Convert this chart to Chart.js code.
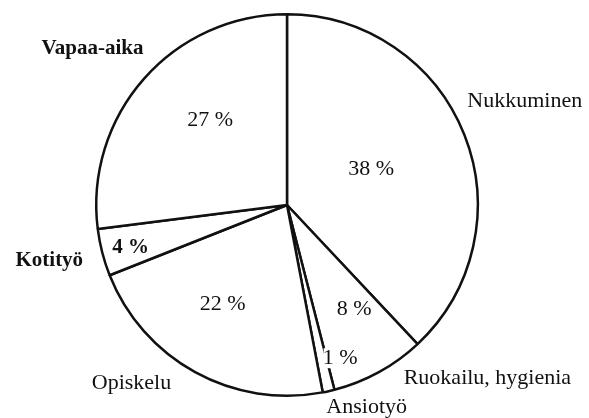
<!DOCTYPE html>
<html>
<head>
<meta charset="utf-8">
<script src="https://cdn.jsdelivr.net/npm/chart.js@4.4.0/dist/chart.umd.min.js"></script>
<style>
  html, body { margin: 0; padding: 0; background: #fff; }
  #wrap { width: 589px; height: 418px; }
</style>
</head>
<body>
<div id="wrap"><canvas id="pieChart" width="589" height="418"></canvas></div>
<script>
    const categories = ['Nukkuminen', 'Ruokailu, hygienia', 'Ansiotyö', 'Opiskelu', 'Kotityö', 'Vapaa-aika'];
    const shares = [38, 8, 1, 22, 4, 27];
    const shareLabels = ['38 %', '8 %', '1 %', '22 %', '4 %', '27 %'];

    // label placement: [angle shift from slice middle (deg), distance as fraction of radius]
    const innerPlace = [[-1.6, 0.48], [-4, 0.65], [-6.5, 0.85], [4.1, 0.62], [-0.9, 0.85], [6.4, 0.60]];
    const outerPlace = [[-2, 1.36], [-20.3, 1.39], [-8.9, 1.14], [12.3, 1.24], [1.2, 1.28], [-2.5, 1.31]];
    // the print shows these labels heavier
    const boldOuter = [false, false, false, false, true, true];
    const boldInner = [false, false, false, false, true, false];
    // the tiny slice label interrupts the slice edge behind it
    const knockOut = [false, false, true, false, false, false];

    const labelPlugin = {
        id: 'pieLabels',
        afterDatasetsDraw(chart) {
            const ctx = chart.ctx;
            const arcs = chart.getDatasetMeta(0).data;
            ctx.save();
            ctx.textAlign = 'center';
            ctx.textBaseline = 'middle';
            arcs.forEach((arc, i) => {
                const p = arc.getProps(['x', 'y', 'startAngle', 'endAngle', 'outerRadius'], true);
                const mid = (p.startAngle + p.endAngle) / 2;
                const put = (text, place, bold, clear) => {
                    const a = mid + place[0] * Math.PI / 180;
                    const r = p.outerRadius * place[1];
                    const x = p.x + r * Math.cos(a);
                    const y = p.y + r * Math.sin(a);
                    ctx.font = (bold ? 'bold 21px' : '22px') + ' "Liberation Serif", "Times New Roman", serif';
                    if (clear) {
                        const w = ctx.measureText(text).width;
                        ctx.fillStyle = '#fff';
                        ctx.fillRect(x - w / 2 + 1, y - 10, w + 1, 20);
                    }
                    ctx.fillStyle = '#111';
                    ctx.fillText(text, x, y);
                };
                put(shareLabels[i], innerPlace[i], boldInner[i], knockOut[i]);
                put(categories[i], outerPlace[i], boldOuter[i], false);
            });
            ctx.restore();
        }
    };

    new Chart(document.getElementById('pieChart'), {
        type: 'pie',
        data: {
            labels: categories,
            datasets: [{
                data: shares,
                backgroundColor: '#ffffff',
                borderColor: '#111111',
                borderWidth: 2.5
            }]
        },
        options: {
            responsive: false,
            animation: false,
            layout: { padding: { top: 13, bottom: 21, left: 0, right: 15 } },
            plugins: {
                legend: { display: false },
                tooltip: { enabled: false }
            }
        },
        plugins: [labelPlugin]
    });
</script>
</body>
</html>
